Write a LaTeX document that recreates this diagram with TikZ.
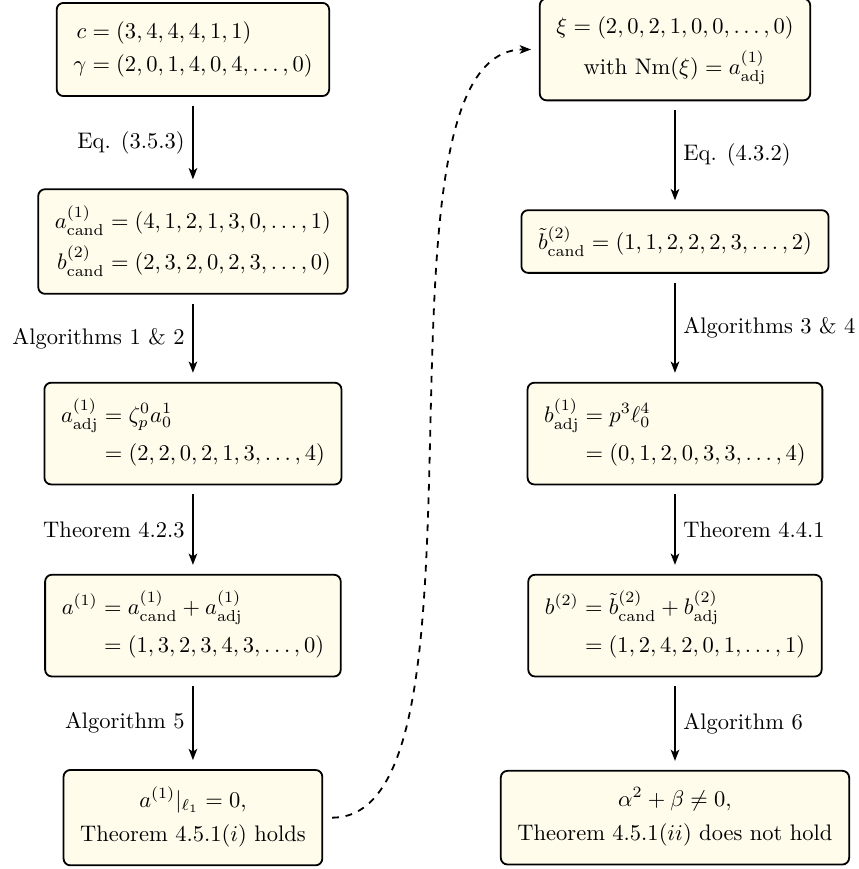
\documentclass[tikz,border=0pt]{standalone}
\usepackage{amsmath}
\usetikzlibrary{arrows.meta}
\definecolor{boxfill}{RGB}{255,252,236}
\begin{document}
\begin{tikzpicture}[
  box/.style={draw, thick, rounded corners=3pt, fill=boxfill, inner xsep=7.4pt, inner ysep=7.2pt, align=center},
  flow/.style={thick, -{Stealth[length=5pt,width=3.8pt,inset=1.3pt]}, shorten <=4pt, shorten >=4pt},
  link/.style={thick, dashed, -{Stealth[length=5pt,width=3.8pt,inset=1.3pt]}, shorten <=4pt, shorten >=3.5pt}
]
\useasboundingbox (-3.014,0.773) rectangle (10.40,-12.802);

% left column
\node[box] (l1) at (0,0) {$\begin{aligned} c &= (3,4,4,4,1,1)\\ \gamma &= (2,0,1,4,0,4,\ldots,0)\end{aligned}$};
\node[box] (l2) at (0,-3) {$\begin{aligned} a^{(1)}_{\mathrm{cand}} &= (4,1,2,1,3,0,\ldots,1)\\ b^{(2)}_{\mathrm{cand}} &= (2,3,2,0,2,3,\ldots,0)\end{aligned}$};
\node[box] (l3) at (0,-6) {$\begin{aligned} a^{(1)}_{\mathrm{adj}} &= \zeta_p^0 a_0^1\\ &= (2,2,0,2,1,3,\ldots,4)\end{aligned}$};
\node[box] (l4) at (0,-9) {$\begin{aligned} a^{(1)} &= a^{(1)}_{\mathrm{cand}} + a^{(1)}_{\mathrm{adj}}\\ &= (1,3,2,3,4,3,\ldots,0)\end{aligned}$};
\node[box] (l5) at (0,-12) {$\begin{gathered} a^{(1)}|_{\ell_1} = 0,\\ \text{Theorem 4.5.1}(i)\text{ holds}\end{gathered}$};

% right column
\node[box] (r1) at (7.53,0) {$\begin{gathered} \xi = (2,0,2,1,0,0,\ldots,0)\\ \text{with }\mathrm{Nm}(\xi) = a^{(1)}_{\mathrm{adj}}\end{gathered}$};
\node[box] (r2) at (7.53,-3) {$\tilde{b}^{(2)}_{\mathrm{cand}} = (1,1,2,2,2,3,\ldots,2)$};
\node[box] (r3) at (7.53,-6) {$\begin{aligned} b^{(1)}_{\mathrm{adj}} &= p^3\ell_0^4\\ &= (0,1,2,0,3,3,\ldots,4)\end{aligned}$};
\node[box] (r4) at (7.53,-9) {$\begin{aligned} b^{(2)} &= \tilde{b}^{(2)}_{\mathrm{cand}} + b^{(2)}_{\mathrm{adj}}\\ &= (1,2,4,2,0,1,\ldots,1)\end{aligned}$};
\node[box] (r5) at (7.53,-12) {$\begin{gathered} \alpha^2+\beta\neq 0,\\ \text{Theorem 4.5.1}(ii)\text{ does not hold}\end{gathered}$};

% left arrows
\draw[flow] (l1) -- node[left] {Eq. (3.5.3)} (l2);
\draw[flow] (l2) -- node[left] {Algorithms 1 \& 2} (l3);
\draw[flow] (l3) -- node[left] {Theorem 4.2.3} (l4);
\draw[flow] (l4) -- node[left] {Algorithm 5} (l5);

% right arrows
\draw[flow] (r1) -- node[right] {Eq. (4.3.2)} (r2);
\draw[flow] (r2) -- node[right] {Algorithms 3 \& 4} (r3);
\draw[flow] (r3) -- node[right] {Theorem 4.4.1} (r4);
\draw[flow] (r4) -- node[right] {Algorithm 6} (r5);

% dashed link
\draw[link] (l5.east) .. controls +(2.9,0) and +(-2.9,0) .. (r1.west);
\end{tikzpicture}
\end{document}
